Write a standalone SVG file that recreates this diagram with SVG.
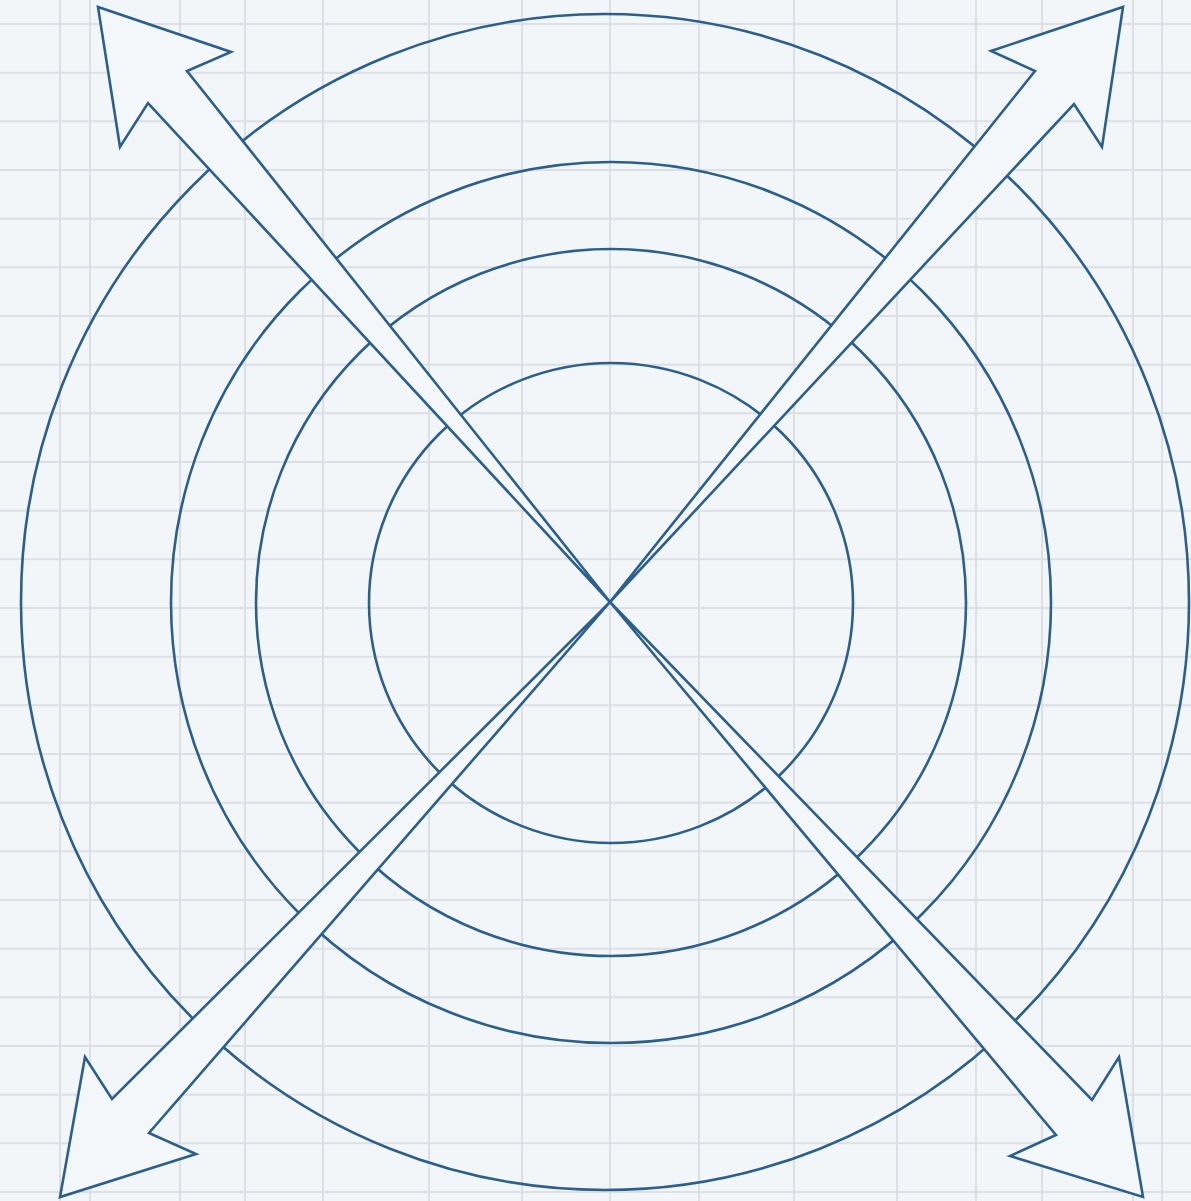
<svg xmlns="http://www.w3.org/2000/svg" width="1191" height="1201" viewBox="0 0 1191 1201">
<style>
.bg{fill:#f2f6f9}
.grid line{stroke:#dcdfe3;stroke-width:2}
.ring{fill:none;stroke:#2b5f8e;stroke-width:2.6}
.arrow{fill:#f3f7fa;stroke:#2b5f8e;stroke-width:2.6;stroke-linejoin:miter}
</style>
<rect class="bg" x="0" y="0" width="1191" height="1201"/>
<g class="grid" id="grid">
<line x1="60" y1="0" x2="60" y2="1201"/>
<line x1="90" y1="0" x2="90" y2="1201"/>
<line x1="180" y1="0" x2="180" y2="1201"/>
<line x1="245" y1="0" x2="245" y2="1201"/>
<line x1="323" y1="0" x2="323" y2="1201"/>
<line x1="429" y1="0" x2="429" y2="1201"/>
<line x1="522" y1="0" x2="522" y2="1201"/>
<line x1="610" y1="0" x2="610" y2="1201"/>
<line x1="699" y1="0" x2="699" y2="1201"/>
<line x1="794" y1="0" x2="794" y2="1201"/>
<line x1="897" y1="0" x2="897" y2="1201"/>
<line x1="976" y1="0" x2="976" y2="1201"/>
<line x1="1042" y1="0" x2="1042" y2="1201"/>
<line x1="1133" y1="0" x2="1133" y2="1201"/>
<line x1="1162" y1="0" x2="1162" y2="1201"/>
<line x1="0" y1="24" x2="1191" y2="24"/>
<line x1="0" y1="72.7" x2="1191" y2="72.7"/>
<line x1="0" y1="121.3" x2="1191" y2="121.3"/>
<line x1="0" y1="170" x2="1191" y2="170"/>
<line x1="0" y1="218.7" x2="1191" y2="218.7"/>
<line x1="0" y1="267.3" x2="1191" y2="267.3"/>
<line x1="0" y1="316" x2="1191" y2="316"/>
<line x1="0" y1="364.7" x2="1191" y2="364.7"/>
<line x1="0" y1="413.3" x2="1191" y2="413.3"/>
<line x1="0" y1="462" x2="1191" y2="462"/>
<line x1="0" y1="510.7" x2="1191" y2="510.7"/>
<line x1="0" y1="559.3" x2="1191" y2="559.3"/>
<line x1="0" y1="608" x2="1191" y2="608"/>
<line x1="0" y1="656.7" x2="1191" y2="656.7"/>
<line x1="0" y1="705.3" x2="1191" y2="705.3"/>
<line x1="0" y1="754" x2="1191" y2="754"/>
<line x1="0" y1="802.7" x2="1191" y2="802.7"/>
<line x1="0" y1="851.3" x2="1191" y2="851.3"/>
<line x1="0" y1="900" x2="1191" y2="900"/>
<line x1="0" y1="948.7" x2="1191" y2="948.7"/>
<line x1="0" y1="997.3" x2="1191" y2="997.3"/>
<line x1="0" y1="1046" x2="1191" y2="1046"/>
<line x1="0" y1="1094.7" x2="1191" y2="1094.7"/>
<line x1="0" y1="1143.3" x2="1191" y2="1143.3"/>
<line x1="0" y1="1192" x2="1191" y2="1192"/>
</g>
<g id="ring-outer"><ellipse class="ring" cx="605" cy="602" rx="584" ry="588"/></g>
<g id="ring-2"><ellipse class="ring" cx="611" cy="602.5" rx="440" ry="440.5"/></g>
<g id="ring-3"><ellipse class="ring" cx="611" cy="602.5" rx="355" ry="353.5"/></g>
<g id="ring-inner"><ellipse class="ring" cx="611" cy="603" rx="242" ry="240"/></g>
<g id="connectors">
<polygon id="arrow-tl" class="arrow" points="610,602 148,103 120,147 98,7 231,52 187,71"/>
<polygon id="arrow-tr" class="arrow" points="610,602 1035,71 991,51 1123,7 1102,147 1074,104"/>
<polygon id="arrow-bl" class="arrow" points="610,602 112,1099 85,1057 60,1197 196,1154 149,1133"/>
<polygon id="arrow-br" class="arrow" points="610,602 1092,1100 1119,1057 1143,1197 1010,1156 1056,1135"/>
</g>
</svg>
